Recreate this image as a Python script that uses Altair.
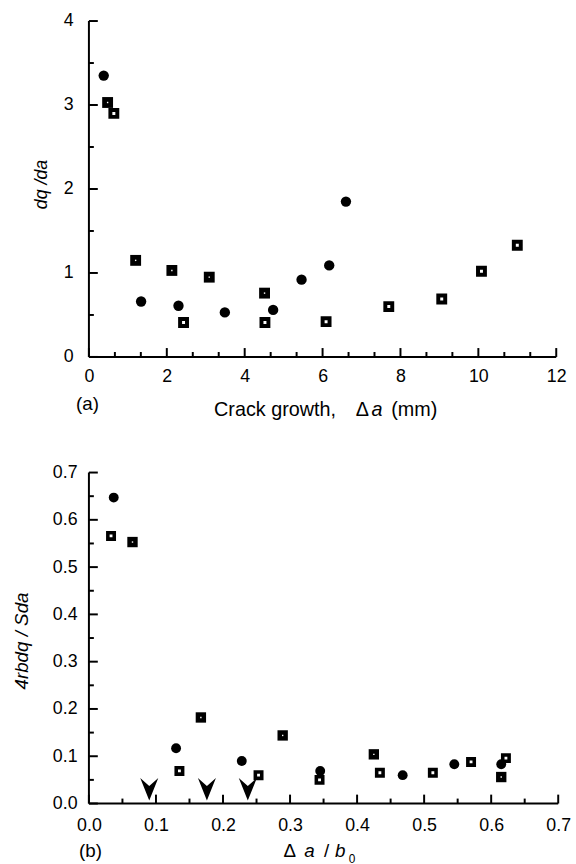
import altair as alt
import pandas as pd

FONT = "Liberation Sans"

# ---- Panel (a): dq/da versus crack growth (mm) ----
a_circle_x = [0.38, 1.34, 2.30, 3.49, 4.73, 5.46, 6.17, 6.60]
a_circle_y = [3.35, 0.66, 0.61, 0.53, 0.56, 0.92, 1.09, 1.85]
a_fsq_x = [0.48, 1.20, 2.13, 3.09, 4.51]
a_fsq_y = [3.03, 1.15, 1.03, 0.95, 0.76]
a_osq_x = [0.64, 2.43, 4.52, 6.09, 7.70, 9.06, 10.08, 11.00]
a_osq_y = [2.90, 0.41, 0.41, 0.42, 0.60, 0.69, 1.02, 1.33]

a_x_major = [0, 2, 4, 6, 8, 10, 12]
a_x_minor = [0.667, 1.333, 2.667, 3.333, 4.667, 5.333, 6.667, 7.333,
             8.667, 9.333, 10.667, 11.333]
a_y_major = [0, 1, 2, 3, 4]
a_y_minor = [0.5, 1.5, 2.5, 3.5]

# ---- Panel (b): normalised slope versus delta a / b0 ----
b_circle_x = [0.037, 0.130, 0.228, 0.345, 0.468, 0.545, 0.615]
b_circle_y = [0.647, 0.117, 0.090, 0.069, 0.060, 0.083, 0.083]
b_fsq_x = [0.065, 0.167, 0.289, 0.425, 0.615]
b_fsq_y = [0.553, 0.182, 0.144, 0.104, 0.056]
b_osq_x = [0.033, 0.135, 0.253, 0.344, 0.434, 0.513, 0.570, 0.622]
b_osq_y = [0.566, 0.069, 0.060, 0.050, 0.065, 0.065, 0.088, 0.096]
b_arrow_x = [0.090, 0.176, 0.237]
b_arrow_y = [0.03, 0.03, 0.03]

b_x_major = [0.0, 0.1, 0.2, 0.3, 0.4, 0.5, 0.6, 0.7]
b_x_minor = [0.05, 0.15, 0.25, 0.35, 0.45, 0.55, 0.65]
b_y_major = [0.0, 0.1, 0.2, 0.3, 0.4, 0.5, 0.6, 0.7]
b_y_minor = [0.05, 0.15, 0.25, 0.35, 0.45, 0.55, 0.65]

# notched downward arrowhead
ARROW = "M0,1L-0.8,-1L0,-0.3L0.8,-1Z"


def frame(x, y):
    return pd.DataFrame({"x": x, "y": y})


def blank():
    return alt.Chart(alt.Data(values=[{}]))


def label(text, x, y, size=19, style="normal", align="left"):
    return blank().mark_text(text=text, font=FONT, fontSize=size,
                             fontStyle=style, align=align,
                             baseline="alphabetic", color="black").encode(
        x=alt.value(x), y=alt.value(y))


def axis_common(**kw):
    base = dict(grid=False, ticks=False, domain=False, labelFont=FONT,
                labelFontSize=18, labelColor="black", labelFlush=False,
                labelOverlap=False)
    base.update(kw)
    return alt.Axis(**base)


def panel(W, H, xdom, ydom, xaxis, yaxis, circ, fsq, osq,
          xmaj, xmin, ymaj, ymin, csize, fsize, osize, ostroke, extra):
    xs = alt.Scale(domain=xdom, nice=False, zero=False)
    ys = alt.Scale(domain=ydom, nice=False, zero=False)
    X = alt.X("x:Q", scale=xs, axis=xaxis)
    Y = alt.Y("y:Q", scale=ys, axis=yaxis)
    # data units per pixel along each axis, for the inward tick lengths
    px_x = (xdom[1] - xdom[0]) / W
    px_y = (ydom[1] - ydom[0]) / H

    layers = [
        # axis lines
        alt.Chart(pd.DataFrame({"x": [xdom[0]], "x2": [xdom[1]], "y": [ydom[0]]}))
        .mark_rule(color="black", strokeWidth=2).encode(x=X, x2="x2:Q", y=Y),
        alt.Chart(pd.DataFrame({"x": [xdom[0]], "y": [ydom[0]], "y2": [ydom[1]]}))
        .mark_rule(color="black", strokeWidth=2).encode(x=X, y=Y, y2="y2:Q"),
    ]
    # inward-pointing tick marks
    for vals, ln in ((xmaj, 9), (xmin, 5)):
        n = len(vals)
        layers.append(
            alt.Chart(pd.DataFrame({"x": vals, "y": [ydom[0]] * n,
                                    "y2": [ydom[0] + ln * px_y] * n}))
            .mark_rule(color="black", strokeWidth=2)
            .encode(x=X, y=Y, y2="y2:Q"))
    for vals, ln in ((ymaj, 9), (ymin, 5)):
        n = len(vals)
        layers.append(
            alt.Chart(pd.DataFrame({"y": vals, "x": [xdom[0]] * n,
                                    "x2": [xdom[0] + ln * px_x] * n}))
            .mark_rule(color="black", strokeWidth=2)
            .encode(x=X, x2="x2:Q", y=Y))
    layers += [
        alt.Chart(frame(*circ)).mark_circle(color="black", size=csize, opacity=1)
        .encode(x=X, y=Y),
        alt.Chart(frame(*fsq)).mark_square(color="black", size=fsize, opacity=1)
        .encode(x=X, y=Y),
        alt.Chart(frame(*fsq)).mark_square(color="white", size=2, opacity=1)
        .encode(x=X, y=Y),
        alt.Chart(frame(*osq)).mark_square(fill="white", stroke="black",
                                           strokeWidth=ostroke, size=osize,
                                           opacity=1)
        .encode(x=X, y=Y),
    ]
    layers += extra(X, Y)
    return alt.layer(*layers).properties(width=W, height=H)


# ---------------- panel (a) ----------------
top_x_axis = axis_common(values=a_x_major, title=None, labelPadding=11)
top_y_axis = axis_common(values=a_y_major, title="dq /da", labelPadding=16,
                         titleFont=FONT, titleFontSize=18, titleFontStyle="italic",
                         titleFontWeight="normal", titleColor="black",
                         titleAngle=270, titleBaseline="middle", titleAlign="center",
                         titleX=-48, titleY=165)


def top_extra(X, Y):
    return [
        label("Crack growth,", 250, 400, size=20, align="right"),
        label("\u0394", 270, 400, size=20),
        label("a", 286, 400, size=20, style="italic"),
        label("(mm)", 306, 400, size=20),
        label("(a)", -13, 394),
    ]


top = panel(473, 340, [0, 12], [0, 4], top_x_axis, top_y_axis,
            (a_circle_x, a_circle_y), (a_fsq_x, a_fsq_y), (a_osq_x, a_osq_y),
            a_x_major, a_x_minor, a_y_major, a_y_minor,
            110, 121, 49, 4, top_extra)

# ---------------- panel (b) ----------------
bot_x_axis = axis_common(values=b_x_major, title=None, labelPadding=13, format=".1f")
bot_y_axis = axis_common(values=b_y_major, title="4rbdq / Sda", labelPadding=12,
                         format=".1f",
                         titleFont=FONT, titleFontSize=19, titleFontStyle="italic",
                         titleFontWeight="normal", titleColor="black",
                         titleAngle=270, titleBaseline="middle", titleAlign="center",
                         titleX=-68, titleY=170)


def bot_extra(X, Y):
    return [
        alt.Chart(frame(b_arrow_x, b_arrow_y)).mark_point(
            shape=ARROW, filled=True, color="black", size=520, opacity=1)
        .encode(x=X, y=Y),
        label("\u0394", 197, 389),
        label("a", 218, 389, style="italic"),
        label("/", 238, 389),
        label("b", 249, 389, style="italic"),
        label("0", 263, 395, size=12),
        label("(b)", -10, 389),
    ]


bottom = panel(475, 335, [0, 0.7], [0, 0.7], bot_x_axis, bot_y_axis,
               (b_circle_x, b_circle_y), (b_fsq_x, b_fsq_y), (b_osq_x, b_osq_y),
               b_x_major, b_x_minor, b_y_major, b_y_minor,
               100, 110, 42, 3.6, bot_extra)

chart = (
    alt.vconcat(top, bottom, spacing=44)
    .properties(padding={"left": 13, "top": 7, "right": 5, "bottom": 0})
    .configure_view(strokeWidth=0)
)

chart.save("out.html", embed_options={"renderer": "svg", "actions": False})
